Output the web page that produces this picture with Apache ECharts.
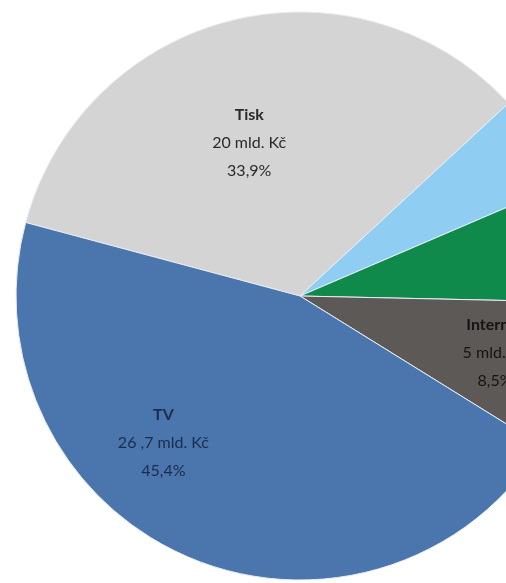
<!DOCTYPE html>
<html>
<head>
<meta charset="utf-8">
<script src="https://cdn.jsdelivr.net/npm/echarts@6/dist/echarts.min.js"></script>
<style>
html,body{margin:0;padding:0;background:#fff;}
#c{width:506px;height:583px;}
</style>
</head>
<body>
<div id="c"></div>
<script>
// Data
const categories = ['Tisk', 'Rádio', 'Outdoor', 'Internet', 'TV'];
const values = [20, 3.2, 4.0, 5, 26.7];
const valueLabels = ['20 mld. Kč', '3,2 mld. Kč', '4 mld. Kč', '5 mld. Kč', '26 ,7 mld. Kč'];
const percentLabels = ['33,9%', '5,4%', '6,8%', '8,5%', '45,4%'];

const colors = ['#d4d4d4', '#8fcdf3', '#0f8a4b', '#5d5957', '#4a75ad'];
const labelShown = [true, false, false, true, true];
const labelColors = ['#2a2a2a', '#222', '#222', '#141414', '#1b2c4e'];
const labelOffsets = [[-16, -12], [0, 0], [0, 0], [56, 16], [-79, 14]];

const chart = echarts.init(document.getElementById('c'));
chart.setOption({
  animation: false,
  backgroundColor: '#ffffff',
  series: [{
    type: 'pie',
    center: [300, 296],
    radius: [0, 284],
    startAngle: 165,
    clockwise: true,
    avoidLabelOverlap: false,
    labelLine: { show: false },
    itemStyle: { borderColor: '#e9eef4', borderWidth: 1 },
    data: categories.map((name, i) => ({
      name: name,
      value: values[i],
      itemStyle: { color: colors[i] },
      label: {
        show: labelShown[i],
        position: 'inside',
        offset: labelOffsets[i],
        formatter: '{n|' + name + '}\n{v|' + valueLabels[i] + '}\n{v|' + percentLabels[i] + '}',
        rich: {
          n: { fontFamily: 'Lato', fontWeight: 'bold', fontSize: 16, lineHeight: 28, color: labelColors[i] },
          v: { fontFamily: 'Lato', fontSize: 16, lineHeight: 28, color: labelColors[i] }
        }
      }
    }))
  }]
});
</script>
</body>
</html>
